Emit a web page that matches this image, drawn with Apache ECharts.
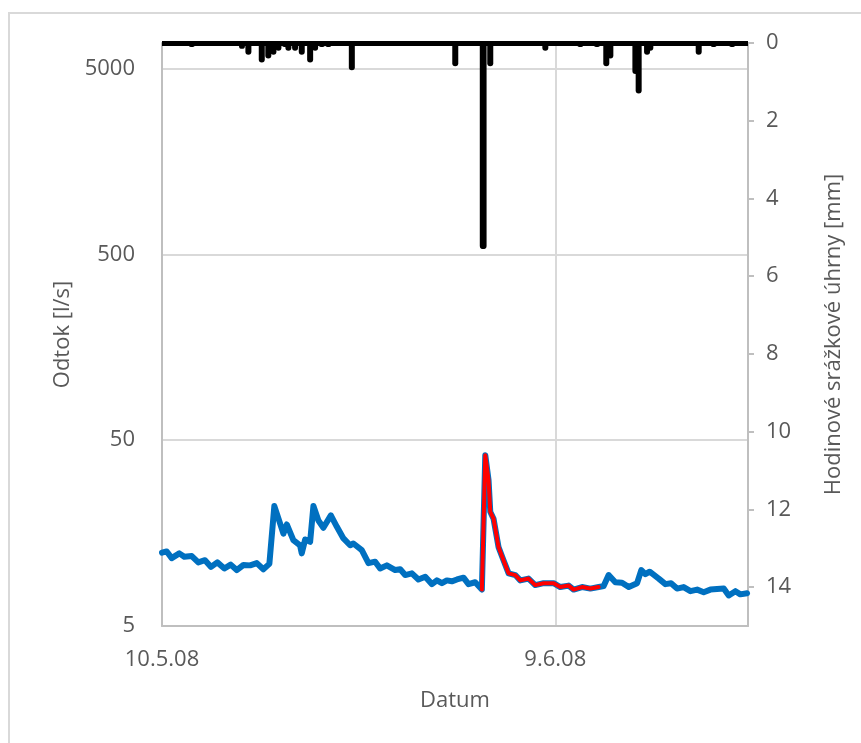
<!DOCTYPE html>
<html>
<head>
<meta charset="utf-8">
<script src="https://cdn.jsdelivr.net/npm/echarts@6/dist/echarts.min.js"></script>
<style>
  html, body { margin: 0; padding: 0; background: #fff; }
  #frame { position: absolute; left: 8px; top: 12px; width: 900px; height: 800px; border: 2px solid #d9d9d9; }
  #chart { position: absolute; left: 0; top: 0; width: 861px; height: 743px; }
</style>
</head>
<body>
<div id="frame"></div>
<div id="chart"></div>
<script>
// x = days since 10.5.2008
const startDate = Date.UTC(2008, 4, 10);
const flowTicks = [5, 50, 500, 5000];

// odtok [l/s]
const flowDays = [0, 0.36, 0.74, 1.32, 1.70, 2.27, 2.77, 3.28, 3.74, 4.22, 4.76, 5.24, 5.70, 6.21, 6.72, 7.23, 7.73, 8.19,
  8.57, 8.93, 9.26, 9.52, 10.02, 10.53, 10.66, 10.92, 11.30, 11.55, 11.93, 12.31, 12.88, 13.34, 13.84, 14.35, 14.60,
  15.24, 15.75, 16.26, 16.64, 17.15, 17.79, 18.17, 18.55, 19.06, 19.56, 20.08, 20.59, 20.97, 21.35, 21.73, 22.11,
  22.50, 23.00, 23.38, 23.89, 24.40, 24.66, 24.91, 25.04, 25.29, 25.67, 26.05, 26.44, 26.95, 27.33, 27.96, 28.47,
  29.11, 29.87, 30.38, 31.02, 31.40, 32.04, 32.67, 33.31, 33.69, 34.07, 34.58, 35.09, 35.60, 36.24, 36.56, 36.87,
  37.20, 37.89, 38.40, 38.83, 39.29, 39.79, 40.31, 40.82, 41.32, 41.83, 42.85, 43.23, 43.74, 44.12, 44.63];
const flowValues = [12.4, 12.6, 11.6, 12.3, 11.8, 11.9, 11.0, 11.3, 10.4, 11.0, 10.2, 10.7, 10.0, 10.65, 10.6, 10.9, 10.1, 10.8,
  22.1, 18.5, 15.7, 17.6, 14.5, 13.6, 12.3, 14.6, 14.2, 22.1, 18.5, 16.9, 19.7, 17.1, 14.8, 13.6, 13.9,
  12.8, 10.9, 11.1, 10.2, 10.6, 10.0, 10.1, 9.4, 9.6, 8.9, 9.2, 8.4, 8.8, 8.5, 8.8, 8.7,
  8.9, 9.1, 8.4, 8.6, 7.85, 41.5, 30.5, 20.6, 18.9, 13.3, 11.3, 9.6, 9.4, 8.8, 9.0, 8.3,
  8.5, 8.5, 8.1, 8.25, 7.85, 8.1, 7.95, 8.1, 8.2, 9.4, 8.6, 8.55, 8.1, 8.5, 10.0, 9.5,
  9.8, 9.0, 8.4, 8.5, 7.95, 8.1, 7.7, 7.85, 7.6, 7.85, 7.95, 7.3, 7.7, 7.4, 7.5];

// red overlay (event from 2.6. to 12.6.)
const eventDays = [24.40, 24.66, 24.91, 25.04, 25.29, 25.67, 26.05, 26.44, 26.95, 27.33, 27.96, 28.47,
  29.11, 29.87, 30.38, 31.02, 31.40, 32.04, 32.67, 33.31];
const eventValues = [7.85, 41.5, 30.5, 20.6, 18.9, 13.3, 11.3, 9.6, 9.4, 8.8, 9.0, 8.3,
  8.5, 8.5, 8.1, 8.25, 7.85, 8.1, 7.95, 8.1];

// hodinové srážkové úhrny [mm]
const rainDays = [2.27, 6.10, 6.59, 7.61, 8.11, 8.50, 8.88, 9.39, 9.64, 10.15, 10.66, 11.30, 11.68, 12.19, 12.69, 14.48,
  22.37, 24.47, 24.53, 25.04, 29.24, 31.91, 33.18, 33.89, 34.20, 36.11, 36.36, 37.00, 37.25, 40.94, 42.08, 43.49];
const rainMm = [0.1, 0.15, 0.3, 0.5, 0.4, 0.3, 0.2, 0.1, 0.2, 0.2, 0.3, 0.5, 0.2, 0.1, 0.1, 0.7,
  0.6, 5.3, 5.3, 0.6, 0.2, 0.1, 0.1, 0.6, 0.4, 0.8, 1.3, 0.3, 0.2, 0.3, 0.1, 0.1];

const pair = (xs, ys) => xs.map((x, i) => [x, ys[i]]);

const textColor = '#595959';
const fontFamily = '"Open Sans", "Noto Sans", sans-serif';
const fs = 22;

const fmtDate = (d) => {
  const dt = new Date(startDate + d * 86400000);
  return dt.getUTCDate() + '.' + (dt.getUTCMonth() + 1) + '.' + String(dt.getUTCFullYear()).slice(2);
};

const chart = echarts.init(document.getElementById('chart'), null, { renderer: 'canvas' });
chart.setOption({
  animation: false,
  backgroundColor: 'transparent',
  textStyle: { fontFamily: fontFamily },
  grid: { left: 162, right: 113, top: 43, bottom: 117 },
  xAxis: {
    type: 'value',
    min: 0,
    max: 44.7,
    interval: 30,
    name: 'Datum',
    nameLocation: 'middle',
    nameGap: 64,
    nameTextStyle: { color: textColor, fontSize: fs, fontFamily: fontFamily },
    axisLine: { show: true, onZero: false, lineStyle: { color: '#bfbfbf', width: 2 } },
    axisTick: { show: false },
    axisLabel: { color: textColor, fontSize: fs, margin: 23, showMaxLabel: false, formatter: fmtDate },
    splitLine: { show: true, lineStyle: { color: '#d9d9d9', width: 2 } }
  },
  yAxis: [
    {
      type: 'log',
      logBase: 10,
      min: 5,
      max: 6870,
      name: 'Odtok [l/s]',
      nameLocation: 'middle',
      nameGap: 75,
      nameTextStyle: { color: textColor, fontSize: fs, fontFamily: fontFamily },
      axisLine: { show: true, lineStyle: { color: '#bfbfbf', width: 2 } },
      axisTick: { show: false, customValues: flowTicks },
      axisLabel: { color: textColor, fontSize: fs, margin: 27, customValues: flowTicks, formatter: (v) => String(v) },
      splitLine: { show: true, lineStyle: { color: '#d9d9d9', width: 2 } }
    },
    {
      type: 'value',
      position: 'right',
      inverse: true,
      min: 0,
      max: 15,
      interval: 2,
      name: 'Hodinové srážkové úhrny [mm]',
      nameLocation: 'middle',
      nameRotate: 90,
      nameGap: 75,
      nameTextStyle: { color: textColor, fontSize: fs, fontFamily: fontFamily },
      axisLine: { show: true, lineStyle: { color: '#bfbfbf', width: 2 } },
      axisTick: { show: true, inside: false, length: 6, lineStyle: { color: '#bfbfbf', width: 2 } },
      axisLabel: { color: textColor, fontSize: fs, margin: 18, showMaxLabel: false },
      splitLine: { show: false }
    }
  ],
  series: [
    {
      name: 'srážky',
      type: 'bar',
      yAxisIndex: 1,
      barWidth: 6,
      barGap: '-100%',
      itemStyle: { color: '#000', borderRadius: 3 },
      data: pair(rainDays, rainMm),
      markLine: {
        silent: true,
        symbol: 'none',
        label: { show: false },
        lineStyle: { color: '#000', width: 5, type: 'solid' },
        data: [{ yAxis: 0 }]
      }
    },
    {
      name: 'odtok',
      type: 'line',
      yAxisIndex: 0,
      showSymbol: false,
      lineStyle: { color: '#0070c0', width: 6, cap: 'round', join: 'round' },
      data: pair(flowDays, flowValues)
    },
    {
      name: 'událost',
      type: 'line',
      yAxisIndex: 0,
      showSymbol: false,
      lineStyle: { color: '#ff0000', width: 4, cap: 'round', join: 'round' },
      data: pair(eventDays, eventValues)
    }
  ]
});
</script>
</body>
</html>
